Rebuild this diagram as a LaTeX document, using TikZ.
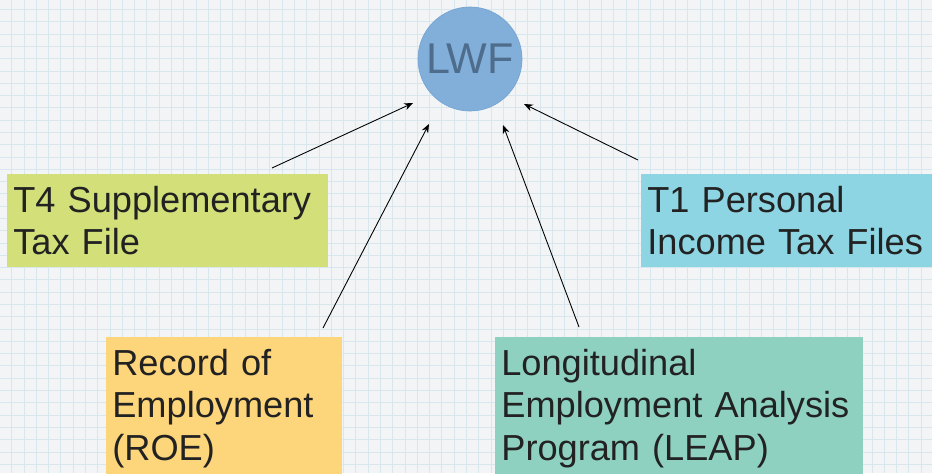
\documentclass[tikz,border=0pt]{standalone}
\usepackage{fontspec}
\setmainfont{Liberation Sans}
\usetikzlibrary{arrows.meta}
\definecolor{paper}{HTML}{F3F4F5}
\definecolor{gridblue}{HTML}{D8E7EE}
\definecolor{ink}{HTML}{222222}
\definecolor{hubfill}{HTML}{82AFDA}
\definecolor{hubedge}{HTML}{74A4D2}
\definecolor{hubtext}{HTML}{4E6D8D}
\definecolor{tfourgreen}{HTML}{D3E07A}
\definecolor{toneblue}{HTML}{8DD5E3}
\definecolor{roeyellow}{HTML}{FDD57A}
\definecolor{leapteal}{HTML}{8ED1C0}

\begin{document}
\begin{tikzpicture}[x=0.02cm, y=-0.02cm,
  gridline/.style={draw=gridblue, line width=0.5pt},
  source/.style={anchor=north west, align=left, inner xsep=0.12cm, inner ysep=0.23cm,
    text=ink, font=\fontsize{20.6}{24.3}\selectfont},
  hub/.style={circle, minimum size=2.08cm, inner sep=0pt, fill=hubfill, draw=hubedge,
    text=hubtext, font=\fontsize{24.5}{24.5}\selectfont},
  feed/.style={-{Stealth[length=5pt,width=4pt]}, line width=0.5pt, draw=black}]
  \clip (0,0) rectangle (932,473);
  \fill[paper] (0,0) rectangle (932,473);
  \foreach \i in {0,...,75}
    \draw[gridline] ({11.7+12.29*\i},0) -- ({11.7+12.29*\i},473);
  \foreach \j in {0,...,38}
    \draw[gridline] (0,{9.5+12.29*\j}) -- (932,{9.5+12.29*\j});

  \node[hub] (lwf) at (470,59) {LWF};

  \node[source, fill=tfourgreen, text width=6.18cm] (tfour) at (7,174)
    {T4 Supplementary\\Tax File};
  \node[source, fill=toneblue, text width=5.9cm] (tone) at (641,174)
    {T1 Personal\\Income Tax Files};
  \node[source, fill=roeyellow, text width=4.48cm] (roe) at (106,337)
    {Record of\\Employment\\(ROE)};
  \node[source, fill=leapteal, text width=7.12cm] (leap) at (495,337)
    {Longitudinal\\Employment Analysis\\Program (LEAP)};

  \coordinate (tfourout) at (272,168);
  \coordinate (tfourin) at (413,103);
  \coordinate (roeout) at (323,328);
  \coordinate (roein) at (429,124);
  \coordinate (leapout) at (579,327);
  \coordinate (leapin) at (503,125);
  \coordinate (toneout) at (638,160);
  \coordinate (tonein) at (524,104);

  \draw[feed] (tfourout) -- (tfourin);
  \draw[feed] (roeout) -- (roein);
  \draw[feed] (leapout) -- (leapin);
  \draw[feed] (toneout) -- (tonein);
\end{tikzpicture}
\end{document}
